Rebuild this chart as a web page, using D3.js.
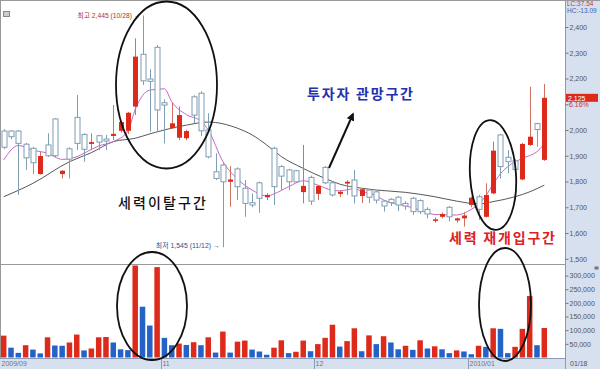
<!DOCTYPE html>
<html>
<head>
<meta charset="utf-8">
<script src="https://cdn.jsdelivr.net/npm/d3@7"></script>
<style>
  body { margin: 0; background: #fff; }
  svg { display: block; }
</style>
</head>
<body>
<svg id="chart" width="600" height="369"></svg>
<script>
// daily candles, 2009-09-30 .. 2010-01-18
const opens  = [1996,1996,1996,1945,1929,1829,1942,2043,1829,1927,2049,1983,1946,1978,1965,1977,1997,1997,2091,2294,
                2198,2321,2106,2007,1970,1968,2129,2143,2000,1838,1864,1799,1849,1774,1718,1795,1739,1929,1858,1845,
                1842,1759,1816,1752,1855,1795,1752,1792,1806,1744,1767,1760,1724,1731,1739,1715,1735,1726,1692,1647,
                1663,1700,1649,1657,1709,1741,1663,1754,1981,1894,1880,1808,1942,2025,1884];
const highs  = [2003,2000,2000,1950,1935,1916,1987,2046,1844,1933,2136,1987,1987,1981,1981,2097,2035,2070,2356,2445,
                2236,2330,2119,2106,2091,2000,2135,2150,2065,1910,1870,1860,1855,1806,1754,1800,1755,1935,1864,1849,
                1845,1942,1823,1787,1860,1800,1767,1806,1845,1774,1772,1765,1728,1735,1744,1724,1740,1731,1700,1660,
                1680,1705,1660,1680,1742,1748,1793,1955,1985,1922,1887,1950,2168,2028,2179];
const lows   = [1926,1965,1748,1845,1829,1827,1895,1895,1812,1812,1922,1877,1922,1922,1922,1961,1990,1985,2058,2175,
                1993,1993,1948,2005,1961,1960,2027,1977,1890,1806,1545,1702,1728,1663,1700,1679,1728,1709,1767,1767,
                1797,1715,1709,1728,1790,1742,1740,1748,1715,1716,1716,1715,1683,1705,1685,1690,1670,1674,1657,1640,
                1657,1645,1640,1625,1700,1651,1660,1750,1812,1832,1836,1805,1938,1935,1880];
const closes = [1933,1974,1948,1892,1873,1899,1900,1900,1842,1887,1948,1925,1953,1953,1957,1985,2031,2067,2285,2191,
                2189,2078,2097,2026,2058,1996,2058,1997,1896,1812,1799,1808,1780,1715,1709,1735,1748,1780,1821,1799,
                1799,1783,1724,1783,1795,1748,1760,1799,1744,1770,1739,1728,1705,1718,1709,1705,1683,1683,1674,1653,
                1674,1663,1657,1668,1737,1692,1748,1920,1858,1877,1847,1946,1974,2002,2125];
const volumes = [80000,36000,17000,45000,29000,15000,74000,44000,43000,55000,84000,26000,33000,74000,75000,55000,30000,27000,337000,186000,
                 117000,331000,72000,45000,51000,46000,56000,45000,74000,18000,95000,18000,58000,62000,29000,22000,10000,36000,63000,16000,
                 21000,62000,23000,49000,72000,120000,40000,60000,107000,23000,81000,49000,78000,55000,30000,43000,28000,63000,33000,41000,
                 30000,16000,26000,22000,12000,43000,39000,107000,105000,16000,39000,105000,225000,45000,108000];

// moving averages: [candle index, price]
const ma5 = [[0,1884],[2,1940],[4,1922],[6,1910],[8,1886],[10,1896],[11,1910],[13,1938],[15,1955],[17,1996],[18,2080],
             [20,2155],[22,2160],[23,2110],[25,2060],[27,2034],[28,2000],[30,1878],[32,1810],[34,1767],[36,1744],[37,1752],
             [39,1780],[41,1803],[43,1786],[45,1766],[46,1764],[48,1772],[49,1762],[51,1745],[52,1728],[55,1706],[57,1689],
             [59,1672],[62,1670],[64,1692],[65,1712],[66,1745],[67,1790],[68,1830],[69,1858],[71,1890],[73,1916],[74,1945]];
const ma20 = [[0,1741],[4,1793],[9,1877],[12,1912],[15,1955],[18,1968],[20,1985],[25,2019],[28,2031],[32,2007],[34,1981],
              [36,1942],[38,1897],[41,1851],[44,1812],[46,1790],[49,1774],[51,1767],[55,1758],[59,1741],[62,1724],[65,1713],
              [67,1722],[70,1741],[72,1760],[74,1786]];

const dateLabels = [[0,'2009/09'],[22,'11'],[43,'12'],[64,'2010/01']];
const priceTicks = [1500,1600,1700,1800,1900,2000,2100,2200,2300,2400];
const volumeTicks = [50000,100000,150000,200000,250000,300000];

const svg = d3.select('#chart');
const W = 600, H = 369, axisX = 565;

const x = d3.scaleLinear().domain([0, 74]).range([3.7, 544.3]);
const y = d3.scaleLinear().domain([1500, 2400]).range([258.8, 27]);
const yv = d3.scaleLinear().domain([0, 300000]).range([357.5, 275.6]);

const RED = '#dd2a1a', BLUE = '#2462c8', HOLLOW = '#7f9db3';
const font = '"Liberation Sans", Arial, sans-serif';
const kfont = '"Noto Sans CJK KR", sans-serif';
const smallFont = '"Liberation Sans", "Noto Sans CJK KR", sans-serif';

// right axis panel and date strip
svg.append('rect').attr('x', axisX).attr('y', 0).attr('width', W - axisX).attr('height', H).attr('fill', '#d6e0ee');
svg.append('rect').attr('x', 0).attr('y', 358).attr('width', axisX).attr('height', 11).attr('fill', '#d6e0ee');
svg.append('line').attr('x1', axisX + 0.5).attr('x2', axisX + 0.5).attr('y1', 0).attr('y2', H).attr('stroke', '#8a9bb3');
svg.append('line').attr('x1', 0).attr('x2', axisX).attr('y1', 358.5).attr('y2', 358.5).attr('stroke', '#8a9bb3');
svg.append('line').attr('x1', 0).attr('x2', axisX).attr('y1', 264.5).attr('y2', 264.5).attr('stroke', '#999');
svg.append('line').attr('x1', 0).attr('x2', W).attr('y1', 0.5).attr('y2', 0.5).attr('stroke', '#999');
svg.append('line').attr('x1', 0.5).attr('x2', 0.5).attr('y1', 0).attr('y2', 358).attr('stroke', '#999');

// small panel icons
svg.append('rect').attr('x', 3.5).attr('y', 11.5).attr('width', 6).attr('height', 5).attr('fill', '#ccc').attr('stroke', '#888');
svg.append('rect').attr('x', 594.5).attr('y', 266.5).attr('width', 4).attr('height', 3).attr('fill', '#777');

// price axis
const priceAxis = d3.axisRight(y).tickValues(priceTicks).tickSize(3).tickPadding(1)
  .tickFormat(d => d === 2100 ? '' : d3.format(',')(d));
const pa = svg.append('g').attr('transform', `translate(${axisX + 0.5},0)`).call(priceAxis);
pa.select('.domain').remove();
pa.selectAll('line').attr('stroke', '#777');
pa.selectAll('text').attr('font-family', font).attr('font-size', 7).attr('fill', '#555');

// volume axis
const volAxis = d3.axisRight(yv).tickValues(volumeTicks).tickSize(3).tickPadding(1).tickFormat(d3.format(','));
const va = svg.append('g').attr('transform', `translate(${axisX + 0.5},0)`).call(volAxis);
va.select('.domain').remove();
va.selectAll('line').attr('stroke', '#777');
va.selectAll('text').attr('font-family', font).attr('font-size', 7).attr('fill', '#555');

// date strip
dateLabels.forEach(([i, label]) => {
  const px = i === 0 ? 0.5 : Math.round(x(i) - 3.6) + 0.5;
  if (i > 0) svg.append('line').attr('x1', px).attr('x2', px).attr('y1', 359).attr('y2', 369).attr('stroke', '#8a9bb3');
  svg.append('text').attr('x', px + 1).attr('y', 366).text(label)
    .attr('font-family', font).attr('font-size', 7).attr('fill', '#777');
});
svg.append('text').attr('x', 570).attr('y', 366).text('01/18')
  .attr('font-family', font).attr('font-size', 7).attr('fill', '#555');

// volume bars
const idx = d3.range(volumes.length);
svg.append('g').selectAll('rect').data(idx).enter().append('rect')
  .attr('x', i => x(i) - 2.75)
  .attr('width', 5.5)
  .attr('y', i => yv(volumes[i]))
  .attr('height', i => yv(0) - yv(volumes[i]))
  .attr('fill', i => (i === 0 || volumes[i] >= volumes[i - 1]) ? RED : BLUE);

// moving averages
const line = d3.line().x(d => x(d[0])).y(d => y(d[1])).curve(d3.curveMonotoneX);
svg.append('path').datum(ma20).attr('d', line).attr('fill', 'none').attr('stroke', '#444').attr('stroke-width', 0.9);
svg.append('path').datum(ma5).attr('d', line).attr('fill', 'none').attr('stroke', '#c866c8').attr('stroke-width', 1);

// candles
const candles = svg.append('g').selectAll('g').data(idx).enter().append('g');
candles.append('line')
  .attr('x1', i => Math.round(x(i)) + 0.5).attr('x2', i => Math.round(x(i)) + 0.5)
  .attr('y1', i => y(highs[i])).attr('y2', i => y(lows[i]))
  .attr('stroke', i => closes[i] >= opens[i] ? '#d07060' : HOLLOW).attr('stroke-width', 1);
candles.append('rect')
  .attr('x', i => Math.round(x(i)) - 2)
  .attr('width', 5)
  .attr('y', i => y(Math.max(opens[i], closes[i])))
  .attr('height', i => Math.max(1.5, Math.abs(y(opens[i]) - y(closes[i]))))
  .attr('fill', i => closes[i] >= opens[i] ? RED : '#fff')
  .attr('stroke', i => closes[i] >= opens[i] ? 'none' : HOLLOW)
  .attr('stroke-width', 1);

// high / low markers
const hiIdx = d3.maxIndex(highs), loIdx = d3.minIndex(lows);
svg.append('text').attr('x', x(hiIdx) - 65).attr('y', y(highs[hiIdx]) + 2.5)
  .text(`최고 ${d3.format(',')(highs[hiIdx])} (10/28) →`)
  .attr('textLength', 63).attr('lengthAdjust', 'spacingAndGlyphs')
  .attr('font-family', smallFont).attr('font-size', 7).attr('fill', '#b03030');
svg.append('text').attr('x', x(loIdx) - 67).attr('y', y(lows[loIdx]) + 1)
  .text(`최저 ${d3.format(',')(lows[loIdx])} (11/12) →`)
  .attr('textLength', 64).attr('lengthAdjust', 'spacingAndGlyphs')
  .attr('font-family', smallFont).attr('font-size', 7).attr('fill', '#34508a');

// last price tag
const last = closes[closes.length - 1];
svg.append('rect').attr('x', 566).attr('y', y(last) - 4).attr('width', 32).attr('height', 8).attr('fill', RED);
svg.append('text').attr('x', 568).attr('y', y(last) + 3).text(d3.format(',')(last))
  .attr('font-family', font).attr('font-size', 7).attr('fill', '#fff');
svg.append('text').attr('x', 569).attr('y', y(2100) + 3).text('6.16%')
  .attr('font-family', font).attr('font-size', 7).attr('fill', '#c33');
svg.append('text').attr('x', 567).attr('y', 6).text('LC:37.54')
  .attr('font-family', font).attr('font-size', 6.5).attr('fill', '#c33');
svg.append('text').attr('x', 567).attr('y', 12.5).text('HC:-13.09')
  .attr('font-family', font).attr('font-size', 6.5).attr('fill', '#3a62b0');

// annotations
const ell = svg.append('g').attr('fill', 'none').attr('stroke', '#111').attr('stroke-width', 1.8);
ell.append('ellipse').attr('cx', 166.5).attr('cy', 85).attr('rx', 50.5).attr('ry', 83.5);
ell.append('ellipse').attr('cx', 152).attr('cy', 306).attr('rx', 35).attr('ry', 54);
ell.append('ellipse').attr('cx', 493).attr('cy', 175).attr('rx', 23).attr('ry', 55).attr('transform', 'rotate(-3.5 493 175)');
ell.append('ellipse').attr('cx', 505).attr('cy', 304.5).attr('rx', 26).attr('ry', 56.5);

svg.append('defs').append('marker').attr('id', 'ah').attr('viewBox', '0 0 10 10').attr('refX', 8).attr('refY', 5)
  .attr('markerWidth', 4).attr('markerHeight', 4).attr('orient', 'auto')
  .append('path').attr('d', 'M0,0L10,5L0,10z').attr('fill', '#111');
svg.append('line').attr('x1', 329).attr('y1', 168).attr('x2', 353).attr('y2', 114)
  .attr('stroke', '#111').attr('stroke-width', 2).attr('marker-end', 'url(#ah)');

svg.append('text').attr('x', 307).attr('y', 99).text('투자자 관망구간')
  .attr('textLength', 106).attr('lengthAdjust', 'spacing')
  .attr('font-family', kfont).attr('font-size', 14).attr('font-weight', 'bold').attr('fill', '#2430b0');
svg.append('text').attr('x', 118).attr('y', 208).text('세력이탈구간')
  .attr('textLength', 88).attr('lengthAdjust', 'spacing')
  .attr('font-family', kfont).attr('font-size', 14).attr('font-weight', 500).attr('fill', '#111');
svg.append('text').attr('x', 449).attr('y', 243).text('세력 재개입구간')
  .attr('textLength', 106).attr('lengthAdjust', 'spacing')
  .attr('font-family', kfont).attr('font-size', 14).attr('font-weight', 'bold').attr('fill', '#dd2222');
</script>
</body>
</html>
